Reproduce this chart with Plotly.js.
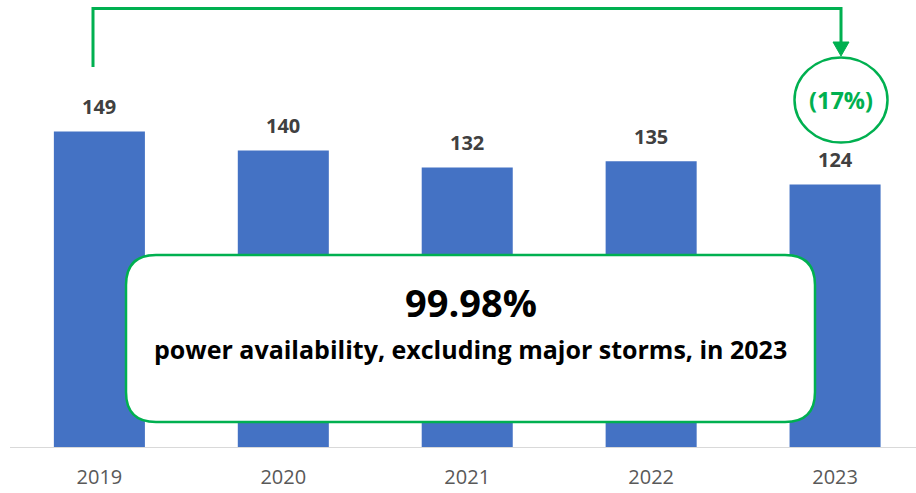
<!DOCTYPE html>
<html>
<head>
<meta charset="utf-8">
<script src="https://cdn.plot.ly/plotly-3.0.1.min.js"></script>
<style>html,body{margin:0;padding:0;background:#fff;}#chart{width:916px;height:493px;}</style>
</head>
<body>
<div id="chart"></div>
<script>
// Data
const years = ["2019", "2020", "2021", "2022", "2023"];
const values = [149, 140, 132, 135, 124];
const changeLabel = "(17%)";
const headline = "99.98%";
const subline = "power availability, excluding major storms, in 2023";

// Layout helpers (pixel -> paper)
const W = 916, H = 493, ML = 10, MR = 0, MT = 0, MB = 46;
const PW = W - ML - MR, PH = H - MT - MB;
const px = v => (v - ML) / PW;
const py = v => (PH + MT - v) / PH;

const green = "#00b050";
const font = "Open Sans, Liberation Sans, sans-serif";

function roundRect(x0, y0, x1, y1, r) {
  const X = px, Y = py;
  return `M ${X(x0 + r)},${Y(y0)} L ${X(x1 - r)},${Y(y0)} Q ${X(x1)},${Y(y0)} ${X(x1)},${Y(y0 + r)} ` +
    `L ${X(x1)},${Y(y1 - r)} Q ${X(x1)},${Y(y1)} ${X(x1 - r)},${Y(y1)} ` +
    `L ${X(x0 + r)},${Y(y1)} Q ${X(x0)},${Y(y1)} ${X(x0)},${Y(y1 - r)} ` +
    `L ${X(x0)},${Y(y0 + r)} Q ${X(x0)},${Y(y0)} ${X(x0 + r)},${Y(y0)} Z`;
}

const trace = {
  type: "bar",
  x: years,
  y: values,
  marker: { color: "#4472c4" },
  hoverinfo: "skip"
};

// value labels: category axis positions are serial indices
const valueAnnotations = years.map((yr, i) => ({
  x: i, y: values[i], xref: "x", yref: "y",
  text: String(values[i]), showarrow: false,
  xanchor: "center", yanchor: "middle",
  yshift: 25, font: { family: font, size: 20, color: "#404040", weight: "bold" }
}));

const layout = {
  width: W, height: H,
  margin: { l: ML, r: MR, t: MT, b: MB },
  paper_bgcolor: "#fff", plot_bgcolor: "#fff",
  showlegend: false,
  bargap: 0.505,
  xaxis: {
    type: "category", range: [-0.486, 4.44],
    showline: true, linecolor: "#d9d9d9", linewidth: 1,
    ticks: "", showgrid: false, zeroline: false,
    ticklabelstandoff: 12,
    tickfont: { family: font, size: 20, color: "#595959" },
    fixedrange: true
  },
  yaxis: {
    range: [0, 211.1], visible: false, showgrid: false, zeroline: false, fixedrange: true
  },
  shapes: [
    { type: "path", xref: "paper", yref: "paper",
      path: `M ${px(93)},${py(67)} L ${px(93)},${py(8.5)} L ${px(841)},${py(8.5)} L ${px(841)},${py(44)}`,
      line: { color: green, width: 3 } },
    { type: "path", xref: "paper", yref: "paper",
      path: `M ${px(833)},${py(42)} L ${px(849)},${py(42)} L ${px(841)},${py(56)} Z`,
      fillcolor: green, line: { color: green, width: 1 } },
    { type: "circle", xref: "paper", yref: "paper",
      x0: px(794.5), x1: px(887.5), y0: py(57.5), y1: py(142.5),
      line: { color: green, width: 2.5 }, fillcolor: "rgba(0,0,0,0)" },
    { type: "path", xref: "paper", yref: "paper",
      path: roundRect(126, 255, 815, 422, 30),
      fillcolor: "#ffffff", line: { color: green, width: 2.5 } }
  ],
  annotations: valueAnnotations.concat([
    { xref: "paper", yref: "paper", x: px(841), y: py(100), text: changeLabel,
      showarrow: false, xanchor: "center", yanchor: "middle",
      font: { family: font, size: 23.5, color: green, weight: "bold" } },
    { xref: "paper", yref: "paper", x: px(471), y: py(302), text: headline,
      showarrow: false, xanchor: "center", yanchor: "middle",
      font: { family: font, size: 38, color: "#000", weight: "bold" } },
    { xref: "paper", yref: "paper", x: px(470), y: py(349), text: subline,
      showarrow: false, xanchor: "center", yanchor: "middle",
      font: { family: font, size: 25, color: "#000", weight: "bold" } }
  ])
};

Plotly.newPlot("chart", [trace], layout, { displayModeBar: false, staticPlot: true });
</script>
</body>
</html>
